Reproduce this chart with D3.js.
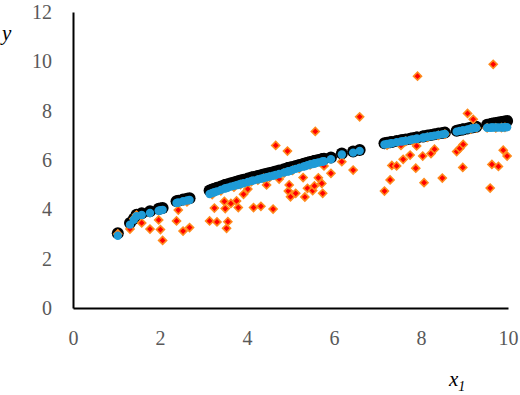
<!DOCTYPE html>
<html>
<head>
<title>Scatter x1 y</title>
<script src="https://d3js.org/d3.v7.min.js"></script>
<style>
body, html {
  margin: 0;
  padding: 0;
  background: #fff;
}
svg {
  display: block;
}
</style>
</head>
<body>
<svg id="chart" width="520" height="395"></svg>
<script>

// shared x1 values
const x1 = [1.03, 1.31, 1.40, 1.46, 1.58, 1.77, 1.97, 2.01, 2.06, 2.38, 2.42, 2.53, 2.62, 2.68,
  3.14, 3.20, 3.25, 3.31, 3.40, 3.48, 3.50, 3.53, 3.56, 3.63, 3.70, 3.76, 3.80, 3.85, 3.92, 4.02,
  4.10, 4.15, 4.25, 4.32, 4.38, 4.45, 4.52, 4.60, 4.66, 4.74, 4.85, 4.93, 4.95, 4.97, 5.00,
  5.05, 5.12, 5.20, 5.29, 5.33, 5.39, 5.45, 5.51, 5.55, 5.57, 5.64, 5.72, 5.74, 5.77, 5.93,
  6.18, 6.44, 6.59,
  7.16, 7.22, 7.29, 7.33, 7.44, 7.54, 7.59, 7.65, 7.75, 7.80, 7.88, 7.90, 7.92, 8.04, 8.07,
  8.15, 8.23, 8.31, 8.40, 8.49, 8.55,
  8.82, 8.89, 8.96, 8.97, 9.07, 9.14, 9.20, 9.27,
  9.52, 9.59, 9.63, 9.66, 9.72, 9.78, 9.85, 9.89, 9.93, 9.98];

// observed y (red diamonds)
const yObserved = [3.00, 3.20, 3.62, 3.77, 3.45, 3.20, 3.57, 3.18, 2.74, 3.53, 3.97, 3.12, 4.30, 3.26,
  3.53, 4.60, 4.05, 3.49, 4.75, 4.32, 4.03, 3.23, 3.50, 4.24, 4.90, 4.34, 4.07, 5.00, 4.61, 4.82,
  5.12, 4.07, 5.18, 4.12, 5.25, 4.99, 5.30, 4.01, 6.59, 5.23, 5.47, 6.36, 4.74, 4.99, 4.51,
  5.58, 4.65, 5.66, 5.29, 4.50, 4.85, 5.80, 4.76, 4.95, 7.16, 5.28, 5.05, 4.65, 5.76, 5.46,
  5.93, 5.59, 7.75,
  4.74, 6.60, 5.19, 5.78, 5.76, 6.59, 6.03, 6.76, 6.20, 6.80, 5.67, 6.57, 9.40, 6.16, 5.08,
  6.92, 6.26, 6.44, 7.00, 5.27, 7.05,
  6.34, 6.47, 5.70, 6.63, 7.89, 7.25, 7.65, 7.30,
  7.30, 4.86, 5.82, 9.88, 7.30, 5.74, 7.31, 6.40, 7.32, 6.16];

// true y (black circles)
const yTrue = [3.03, 3.45, 3.62, 3.78, 3.84, 3.92, 4.02, 4.03, 4.05, 4.33, 4.35, 4.40, 4.43, 4.45,
  4.76, 4.80, 4.83, 4.87, 4.93, 4.98, 4.99, 5.00, 5.02, 5.06, 5.09, 5.12, 5.14, 5.17, 5.20, 5.25,
  5.29, 5.31, 5.35, 5.38, 5.41, 5.44, 5.47, 5.50, 5.53, 5.57, 5.63, 5.67, 5.68, 5.69, 5.70,
  5.72, 5.76, 5.80, 5.84, 5.86, 5.89, 5.92, 5.94, 5.96, 5.97, 6.00, 6.03, 6.04, 6.05, 6.10,
  6.26, 6.34, 6.41,
  6.68, 6.70, 6.72, 6.73, 6.77, 6.80, 6.81, 6.83, 6.86, 6.88, 6.90, 6.91, 6.91, 6.95, 6.96,
  6.99, 7.01, 7.04, 7.07, 7.09, 7.11,
  7.19, 7.22, 7.24, 7.25, 7.28, 7.31, 7.33, 7.35,
  7.43, 7.45, 7.47, 7.48, 7.50, 7.52, 7.54, 7.55, 7.56, 7.58];

// fitted y (blue circles)
const yFitted = [2.93, 3.38, 3.58, 3.72, 3.77, 3.85, 3.94, 3.96, 3.98, 4.26, 4.28, 4.33, 4.36, 4.38,
  4.62, 4.66, 4.69, 4.73, 4.79, 4.84, 4.85, 4.86, 4.88, 4.92, 4.95, 4.98, 5.00, 5.03, 5.06, 5.11,
  5.15, 5.17, 5.21, 5.24, 5.27, 5.30, 5.33, 5.36, 5.39, 5.43, 5.49, 5.53, 5.54, 5.55, 5.56,
  5.60, 5.64, 5.68, 5.73, 5.75, 5.79, 5.82, 5.84, 5.86, 5.87, 5.90, 5.93, 5.94, 5.95, 6.03,
  6.22, 6.30, 6.37,
  6.63, 6.65, 6.67, 6.68, 6.72, 6.75, 6.76, 6.78, 6.81, 6.83, 6.85, 6.86, 6.86, 6.90, 6.91,
  6.94, 6.96, 6.99, 7.02, 7.04, 7.06,
  7.15, 7.18, 7.20, 7.20, 7.24, 7.27, 7.29, 7.31,
  7.31, 7.31, 7.32, 7.32, 7.32, 7.32, 7.32, 7.32, 7.33, 7.33];

const xTicks = [0, 2, 4, 6, 8, 10];
const yTicks = [0, 2, 4, 6, 8, 10, 12];

function drawChart(svg) {
  let xScale = d3.scaleLinear().domain([0, 10]).range([73, 508]);
  let yScale = d3.scaleLinear().domain([0, 12]).range([308, 12]);

  svg.append("g")
     .attr("transform", "translate(0,308)")
     .call(d3.axisBottom(xScale).tickValues(xTicks).tickSize(0).tickPadding(23));

  svg.append("g")
     .attr("transform", "translate(73,0)")
     .call(d3.axisLeft(yScale).tickValues(yTicks).tickSize(0).tickPadding(21));

  svg.selectAll(".domain")
     .attr("stroke", "#000")
     .attr("stroke-width", 2);

  svg.selectAll(".tick text")
     .attr("fill", "#595959")
     .style("font-family", "'Liberation Serif', 'Times New Roman', serif")
     .style("font-size", "20px");

  let pts = x1.map((d, i) => ({ x: d, obs: yObserved[i], tru: yTrue[i], fit: yFitted[i] }));

  svg.append("g").selectAll("circle")
     .data(pts)
     .join("circle")
       .attr("cx", d => xScale(d.x))
       .attr("cy", d => yScale(d.tru))
       .attr("r", 6)
       .attr("fill", "#000");

  let diamond = d3.symbol(d3.symbolSquare).size(32);

  svg.append("g").selectAll("path")
     .data(pts)
     .join("path")
       .attr("d", diamond)
       .attr("transform", d => "translate(" + xScale(d.x) + "," + yScale(d.obs) + ") rotate(45)")
       .attr("fill", "#ff0000")
       .attr("stroke", "#ff8a1c")
       .attr("stroke-width", 1.6);

  svg.append("g").selectAll("circle")
     .data(pts)
     .join("circle")
       .attr("cx", d => xScale(d.x))
       .attr("cy", d => yScale(d.fit))
       .attr("r", 4.2)
       .attr("fill", "#1f9bd7");

  // axis titles
  svg.append("text")
     .attr("x", 2)
     .attr("y", 40)
     .style("font-family", "'Liberation Serif', 'Times New Roman', serif")
     .style("font-style", "italic")
     .style("font-size", "21px")
     .attr("fill", "#000")
     .text("y");

  let xt = svg.append("text")
     .attr("x", 449)
     .attr("y", 386)
     .style("font-family", "'Liberation Serif', 'Times New Roman', serif")
     .style("font-style", "italic")
     .style("font-size", "21px")
     .attr("fill", "#000");
  xt.append("tspan").text("x");
  xt.append("tspan").attr("dy", 5).style("font-size", "14px").text("1");
}

drawChart(d3.select("#chart"));

</script>
</body>
</html>
